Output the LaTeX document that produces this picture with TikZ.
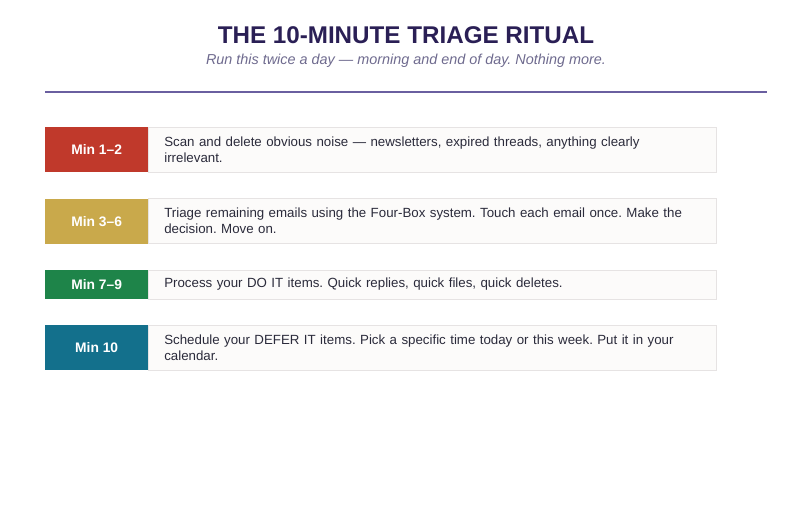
\documentclass[tikz,border=0pt]{standalone}
\usepackage{fontspec}
\setmainfont{Liberation Sans}
\usetikzlibrary{positioning}
\frenchspacing
\definecolor{titleink}{HTML}{2A1F55}
\definecolor{subink}{HTML}{6E6A8E}
\definecolor{ruleink}{HTML}{6A5FA0}
\definecolor{bodyink}{HTML}{2B2B3B}
\definecolor{cardbg}{HTML}{FCFBFA}
\definecolor{cardline}{HTML}{E6E3E3}
\definecolor{minred}{HTML}{C0392B}
\definecolor{mingold}{HTML}{C9A94B}
\definecolor{mingreen}{HTML}{1E8449}
\definecolor{minteal}{HTML}{13708C}
\tikzset{
  minlabel/.style={fill=#1, text=white, font=\bfseries\fontsize{13.8}{16}\selectfont,
    minimum width=103pt, inner sep=0pt},
  minstep/.style={fill=cardbg, draw=cardline, line width=0.8pt, text=bodyink,
    font=\fontsize{13.3}{16}\selectfont, align=left, text width=537pt,
    inner xsep=15.5pt, inner ysep=0pt, right=0pt of #1},
}
\begin{document}
\begin{tikzpicture}[x=1pt, y=-1pt]
\useasboundingbox (0,0) rectangle (794,518);

% heading
\node (title) at (406,35) {\textcolor{titleink}{\bfseries\fontsize{24.2}{28}\selectfont THE 10-MINUTE TRIAGE RITUAL}};
\node (subtitle) at (406,61) {\textcolor{subink}{\itshape\fontsize{14.4}{16}\selectfont Run this twice a day — morning and end of day. Nothing more.}};
\draw[ruleink, line width=1.4pt] (45,92) -- (767,92);

% the four steps
\node[minlabel=minred, minimum height=45pt, anchor=north west] (min12) at (45,127) {Min 1–2};
\node[minstep=min12, minimum height=45pt] (step12) {Scan and delete obvious noise — newsletters, expired threads, anything clearly\\irrelevant.};

\node[minlabel=mingold, minimum height=45pt, below=26pt of min12] (min36) {Min 3–6};
\node[minstep=min36, minimum height=45pt] (step36) {Triage remaining emails using the Four-Box system. Touch each email once. Make the\\decision. Move on.};

\node[minlabel=mingreen, minimum height=29pt, below=26pt of min36] (min79) {Min 7–9};
\node[minstep=min79, minimum height=29pt] (step79) {Process your DO IT items. Quick replies, quick files, quick deletes.};

\node[minlabel=minteal, minimum height=45pt, below=26pt of min79] (min10) {Min 10};
\node[minstep=min10, minimum height=45pt] (step10) {Schedule your DEFER IT items. Pick a specific time today or this week. Put it in your\\calendar.};

\end{tikzpicture}
\end{document}
